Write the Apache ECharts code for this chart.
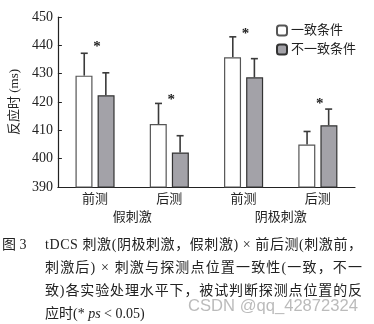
<!DOCTYPE html>
<html><head><meta charset="utf-8">
<script src="https://cdn.jsdelivr.net/npm/echarts@6/dist/echarts.min.js"></script>
<style>html,body{margin:0;padding:0;background:#fff}#c{width:374px;height:324px}</style>
</head><body><div id="c"></div>
<script>
var categories = ['前测', '后测', '前测', '后测'];
var groups = ['假刺激', '阴极刺激'];
var seriesNames = ['一致条件', '不一致条件'];
var congruent = [429.3, 412.2, 435.8, 405.0];
var congruentErrTop = [437.2, 419.5, 443.0, 409.6];
var incongruent = [422.4, 402.2, 428.7, 411.8];
var incongruentErrTop = [430.3, 408.1, 435.3, 417.5];
var starValues = [440.5, 421.7, 445.1, 420.3];
var yTicks = [390, 400, 410, 420, 430, 440, 450];
var captionLines = [
  'tDCS 刺激(阴极刺激，假刺激) × 前后测(刺激前，',
  '刺激后) × 刺激与探测点位置一致性(一致，不一',
  '致)各实验处理水平下，被试判断探测点位置的反',
  '应时(* ps < 0.05)'
];

var SERIF = "'Liberation Serif', 'Noto Sans CJK SC', serif";
var chart = echarts.init(document.getElementById('c'));

function errItem(offset) {
  return function (params, api) {
    var i = api.value(0);
    var base = api.coord([i, api.value(1)]);
    var top = api.coord([i, api.value(2)]);
    var x = base[0] + offset;
    var st = {stroke: '#3a3a3a', lineWidth: 1.6};
    return {type: 'group', children: [
      {type: 'line', shape: {x1: x, y1: base[1], x2: x, y2: top[1]}, style: st},
      {type: 'line', shape: {x1: x - 3.5, y1: top[1], x2: x + 3.5, y2: top[1]}, style: st}
    ]};
  };
}
function starItem(params, api) {
  var p = api.coord([api.value(0), api.value(1)]);
  return {type: 'text', x: p[0] + 2, y: p[1] + 3,
    style: {text: '*', textAlign: 'center', textVerticalAlign: 'middle',
      font: "bold 15px " + SERIF, fill: '#222'}};
}

var capFont = "14px " + SERIF;
var mctx = document.createElement('canvas').getContext('2d');
var graphics = [
  {type: 'text', left: 2, top: 238, style: {text: '图 3', font: capFont, fill: '#222'}}
];
captionLines.forEach(function (t, k) {
  var chars = Array.from(t);
  var last = k === captionLines.length - 1;
  var fonts = chars.map(function (c) {
    return (last && (c === 'p' || c === 's')) ? 'italic ' + capFont : capFont;
  });
  var widths = chars.map(function (c, j) { mctx.font = fonts[j]; return mctx.measureText(c).width; });
  var total = widths.reduce(function (a, b) { return a + b; }, 0);
  var gap = last ? 0 : (317 - total) / (chars.length - 1);
  var x = 45;
  chars.forEach(function (c, j) {
    if (c !== ' ') {
      graphics.push({type: 'text', x: x, y: 238 + k * 23, style: {text: c, font: fonts[j], fill: '#222'}});
    }
    x += widths[j] + gap;
  });
});
graphics.push({type: 'text', left: 188, top: 298, z: 100, style: {text: 'CSDN @qq_42872324', font: "16.6px 'Liberation Sans', sans-serif", fill: 'rgba(170,170,170,0.8)'}});

chart.setOption({
  animation: false,
  backgroundColor: '#fff',
  grid: {left: 54, right: 19, top: 17, bottom: 137},
  legend: {
    data: seriesNames, orient: 'vertical', left: 271, top: 19,
    itemWidth: 10, itemHeight: 10, itemGap: 6,
    textStyle: {fontFamily: SERIF, fontSize: 13, color: '#222', padding: [0, 0, 0, -1]}
  },
  xAxis: [
    {type: 'category', data: categories, axisLine: {lineStyle: {color: '#222', width: 1.2}},
     axisTick: {show: false}, axisLabel: {margin: 6, fontFamily: SERIF, fontSize: 13, color: '#222'}},
    {type: 'category', data: groups, position: 'bottom', axisLine: {show: false}, axisTick: {show: false},
     axisLabel: {margin: 24, fontFamily: SERIF, fontSize: 13, color: '#222'}}
  ],
  yAxis: {
    type: 'value', min: 390, max: 450, interval: 10,
    name: '反应时 (ms)', nameLocation: 'middle', nameGap: 28, nameRotate: 90,
    nameTextStyle: {fontFamily: SERIF, fontSize: 13, color: '#222'},
    axisLine: {show: true, lineStyle: {color: '#222', width: 1.2}},
    axisTick: {show: true, inside: true, length: 4, lineStyle: {color: '#222'}},
    splitLine: {show: false},
    axisLabel: {margin: 5, fontFamily: SERIF, fontSize: 14, color: '#222',
      formatter: function (v) { return yTicks.indexOf(v) >= 0 ? String(v) : ''; }}
  },
  series: [
    {name: seriesNames[0], type: 'bar', data: congruent, barWidth: 17, barGap: '30%',
     itemStyle: {color: '#ffffff', borderColor: '#555', borderWidth: 1.2}},
    {name: seriesNames[1], type: 'bar', data: incongruent, barWidth: 17,
     itemStyle: {color: '#a3a2a8', borderColor: '#333', borderWidth: 1.2}},
    {type: 'custom', renderItem: errItem(-10.8), z: 1,
     data: congruent.map(function (v, i) { return [i, v, congruentErrTop[i]]; })},
    {type: 'custom', renderItem: errItem(10.8), z: 1,
     data: incongruent.map(function (v, i) { return [i, v, incongruentErrTop[i]]; })},
    {type: 'custom', renderItem: starItem, silent: true,
     data: starValues.map(function (v, i) { return [i, v]; })}
  ],
  graphic: graphics
});
</script></body></html>
